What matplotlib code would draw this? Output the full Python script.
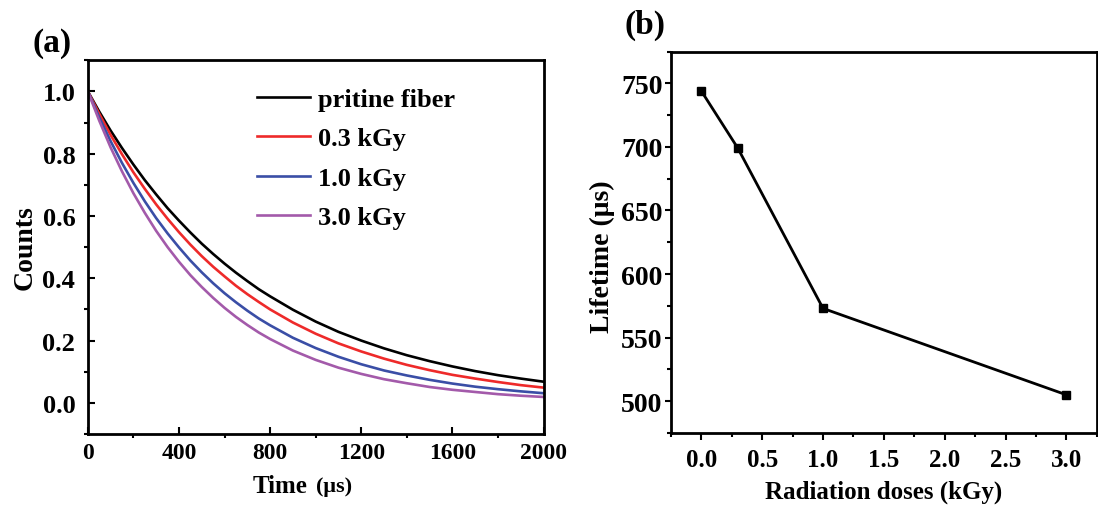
import matplotlib
matplotlib.use('Agg')
import matplotlib.pyplot as plt
from matplotlib.ticker import MultipleLocator

plt.rcParams['font.family'] = ['Liberation Serif', 'DejaVu Serif']
plt.rcParams['font.weight'] = 'bold'

# (a) decay curves
time_us = [0, 50, 100, 150, 200, 250, 300, 350, 400, 450, 500, 550, 600, 650, 700, 750, 800,
           900, 1000, 1100, 1200, 1300, 1400, 1500, 1600, 1700, 1800, 1900, 2000]
pristine = [1.000, 0.935, 0.874, 0.818, 0.765, 0.715, 0.669, 0.625, 0.585, 0.547, 0.511, 0.478,
            0.447, 0.418, 0.391, 0.365, 0.342,
            0.299, 0.261, 0.228, 0.200, 0.175, 0.153, 0.134, 0.117, 0.102, 0.089, 0.078, 0.068]
dose_03 = [1.000, 0.928, 0.860, 0.798, 0.740, 0.687, 0.637, 0.591, 0.548, 0.508, 0.471, 0.437,
           0.406, 0.376, 0.349, 0.324, 0.300,
           0.258, 0.222, 0.191, 0.165, 0.142, 0.122, 0.105, 0.090, 0.078, 0.067, 0.057, 0.049]
dose_10 = [1.000, 0.917, 0.840, 0.770, 0.706, 0.647, 0.593, 0.544, 0.499, 0.457, 0.419, 0.384,
           0.352, 0.323, 0.296, 0.271, 0.249,
           0.209, 0.176, 0.148, 0.124, 0.104, 0.088, 0.074, 0.062, 0.052, 0.044, 0.037, 0.031]
dose_30 = [1.000, 0.906, 0.820, 0.743, 0.673, 0.610, 0.552, 0.500, 0.453, 0.410, 0.372, 0.337,
           0.305, 0.276, 0.250, 0.226, 0.205,
           0.168, 0.138, 0.113, 0.093, 0.076, 0.063, 0.051, 0.042, 0.035, 0.028, 0.023, 0.019]
curve_names = ['pritine fiber', '0.3 kGy', '1.0 kGy', '3.0 kGy']
curve_colors = ['black', '#ee2a2a', '#3a4ea6', '#a35aaa']

# (b) lifetime vs dose
doses = [0.0, 0.3, 1.0, 3.0]
lifetime = [744, 699, 573, 505]

fig = plt.figure(figsize=(10.98, 5.10), dpi=100)
ax1 = fig.add_axes([0.080, 0.147, 0.415, 0.733])
ax2 = fig.add_axes([0.611, 0.149, 0.388, 0.748])

for ys, name, c in zip([pristine, dose_03, dose_10, dose_30], curve_names, curve_colors):
    ax1.plot(time_us, ys, color=c, lw=1.9, label=name)

ax1.set_xlim(0, 2000)
ax1.set_ylim(-0.1, 1.1)
ax1.xaxis.set_major_locator(MultipleLocator(400))
ax1.xaxis.set_minor_locator(MultipleLocator(200))
ax1.yaxis.set_minor_locator(MultipleLocator(0.1))
ax1.set_yticks([0.0, 0.2, 0.4, 0.6, 0.8, 1.0])
ax1.set_yticklabels(['0.0', '0.2', '0.4', '0.6', '0.8', '1.0'])
ax1.tick_params(which='major', direction='in', length=5, width=1.5, pad=6)
ax1.tick_params(axis='x', which='major', labelsize=17)
ax1.tick_params(axis='y', which='major', labelsize=19, pad=9)
ax1.tick_params(which='minor', direction='out', length=3, width=1.5)
ax1.set_ylabel('Counts', fontsize=20, fontweight='bold')
ax1.yaxis.set_label_coords(-0.11, 0.5)
fig.text(253 / 1098, 1 - 493 / 510, 'Time', fontsize=18, fontweight='bold', va='baseline')
fig.text(316 / 1098, 1 - 492 / 510, '(μs)', fontsize=16, fontweight='bold', va='baseline')
ax1.legend(loc='upper left', bbox_to_anchor=(0.32, 0.99), frameon=False,
           handlelength=2.0, handletextpad=0.3, labelspacing=0.6,
           prop={'weight': 'bold', 'size': 19})
fig.text(33 / 1098, 1 - 52 / 510, '(a)', fontsize=24, fontweight='bold')

ax2.plot(doses, lifetime, color='black', lw=2, marker='s', markersize=6)
ax2.set_xlim(-0.25, 3.25)
ax2.set_ylim(475, 775)
ax2.xaxis.set_minor_locator(MultipleLocator(0.25))
ax2.yaxis.set_major_locator(MultipleLocator(50))
ax2.yaxis.set_minor_locator(MultipleLocator(25))
ax2.set_xticks([0.0, 0.5, 1.0, 1.5, 2.0, 2.5, 3.0])
ax2.set_xticklabels(['0.0', '0.5', '1.0', '1.5', '2.0', '2.5', '3.0'])
ax2.tick_params(which='major', direction='out', length=5, width=1.5, pad=6)
ax2.tick_params(axis='x', which='major', labelsize=18)
ax2.tick_params(axis='y', which='major', labelsize=20, length=4, pad=2)
ax2.tick_params(which='minor', direction='out', length=3, width=1.5)
ax2.set_xlabel('Radiation doses (kGy)', fontsize=18, fontweight='bold', labelpad=6)
ax2.set_ylabel('Lifetime (μs)', fontsize=20, fontweight='bold')
ax2.yaxis.set_label_coords(-0.13, 0.465)
fig.text(625 / 1098, 1 - 34 / 510, '(b)', fontsize=24, fontweight='bold')

for ax in (ax1, ax2):
    for s in ax.spines.values():
        s.set_linewidth(2)

fig.savefig('out.png', dpi=100)
